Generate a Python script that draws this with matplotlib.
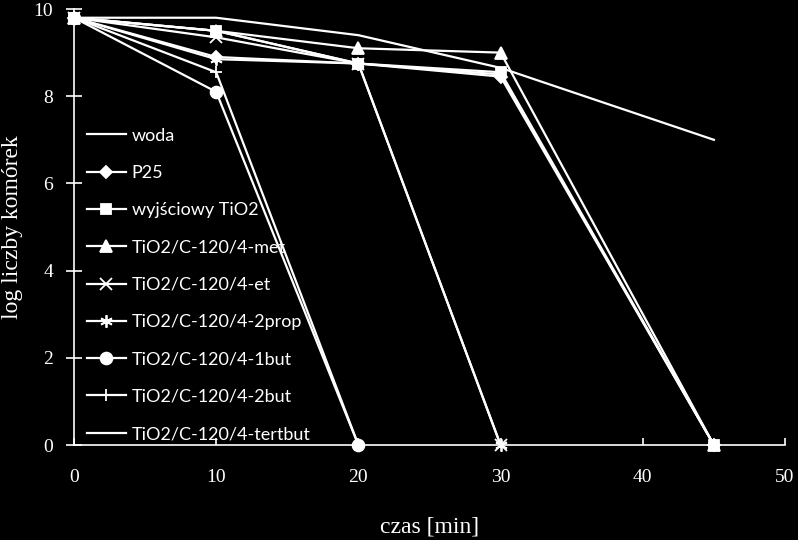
import matplotlib
matplotlib.use("Agg")
import matplotlib.pyplot as plt

# czas [min]
times_woda = [0, 10, 20, 30, 45]
woda = [9.8, 9.8, 9.4, 8.65, 7.0]

times_45 = [0, 10, 20, 30, 45]
p25 = [9.8, 8.9, 8.75, 8.45, 0]
wyjsciowy = [9.8, 9.5, 8.75, 8.55, 0]
met = [9.8, 9.5, 9.1, 9.0, 0]
tertbut = [9.8, 9.5, 8.75, 8.5, 0]

times_30 = [0, 10, 20, 30]
et = [9.8, 9.35, 8.75, 0]
prop2 = [9.8, 8.85, 8.75, 0]

times_20 = [0, 10, 20]
but1 = [9.8, 8.1, 0]
but2 = [9.8, 8.55, 0]

labels = ["woda", "P25", "wyjściowy TiO2", "TiO2/C-120/4-met", "TiO2/C-120/4-et",
          "TiO2/C-120/4-2prop", "TiO2/C-120/4-1but", "TiO2/C-120/4-2but",
          "TiO2/C-120/4-tertbut"]

series = [
    (times_woda, woda, None, 0),
    (times_45, p25, "D", 6),
    (times_45, wyjsciowy, "s", 7),
    (times_45, met, "^", 8),
    (times_30, et, "x", 8),
    (times_30, prop2, (6, 2, 0), 9),
    (times_20, but1, "o", 8.5),
    (times_20, but2, "+", 9),
    (times_45, tertbut, "_", 7),
]

fig = plt.figure(figsize=(7.98, 5.4), dpi=100, facecolor="black")
ax = fig.add_axes([0.0927, 0.1759, 0.891, 0.8074])
ax.set_facecolor("black")

for (x, y, m, ms), lab in zip(series, labels):
    ax.plot(x, y, color="white", lw=1.6, marker=m, markersize=ms,
            markerfacecolor="white", markeredgecolor="white", mew=1.3,
            label=lab, clip_on=False)

ax.set_xlim(0, 50)
ax.set_ylim(0, 10)
ax.set_xticks([0, 10, 20, 30, 40, 50])
ax.set_yticks([0, 2, 4, 6, 8, 10])

for s in ["top", "right"]:
    ax.spines[s].set_visible(False)
for s in ["left", "bottom"]:
    ax.spines[s].set_color("white")
    ax.spines[s].set_linewidth(1.2)

serif = "Liberation Serif"
ax.tick_params(axis="x", direction="in", length=5, color="white", labelcolor="white",
               pad=17, width=1.2)
ax.tick_params(axis="y", direction="inout", length=12, color="white", labelcolor="white",
               pad=9, width=1.2)
for t in ax.get_xticklabels() + ax.get_yticklabels():
    t.set_fontfamily(serif)
    t.set_fontsize(14)

ax.set_xlabel("czas [min]", family=serif, fontsize=17, color="white", labelpad=22)
ax.set_ylabel("log liczby komórek", family=serif, fontsize=17, color="white")
ax.yaxis.set_label_coords(-0.072, 0.5)

leg = ax.legend(loc="upper left", bbox_to_anchor=(0.0, 0.757), frameon=False,
                prop={"family": "Lato", "size": 13}, labelcolor="white",
                handlelength=2.2, handletextpad=0.3, labelspacing=1.18,
                borderaxespad=0.3)

fig.savefig("out.png", dpi=100, facecolor="black")
